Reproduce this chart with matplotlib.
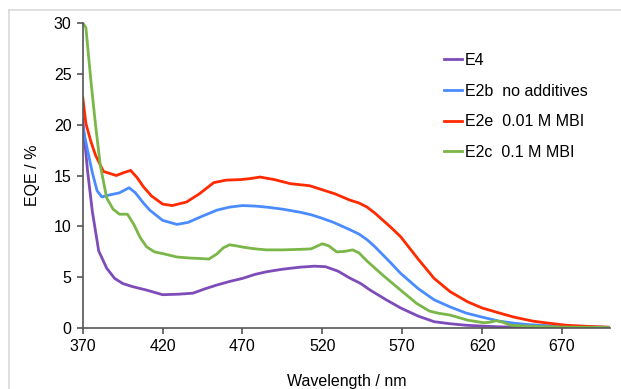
import matplotlib
matplotlib.use("Agg")
import matplotlib.pyplot as plt
from matplotlib.lines import Line2D

plt.rcParams['font.family'] = ['Liberation Sans', 'DejaVu Sans']

# E4
wl_e4 = [370, 373, 376, 380, 385, 390, 395, 401, 410, 420, 430, 439, 447, 454, 462, 470,
         478, 485, 495, 506, 515, 522, 530, 537, 544, 550, 560, 569, 580, 590, 600, 610,
         620, 630, 650, 670, 700]
eqe_e4 = [20.5, 15.5, 11.5, 7.6, 5.9, 4.9, 4.4, 4.1, 3.75, 3.3, 3.35, 3.45, 3.9, 4.25, 4.6, 4.9,
          5.3, 5.55, 5.8, 6.0, 6.1, 6.05, 5.6, 4.95, 4.4, 3.75, 2.8, 2.0, 1.2, 0.65, 0.45, 0.3,
          0.22, 0.15, 0.08, 0.05, 0.04]

# E2b no additives
wl_e2b = [370, 373, 376, 379, 382, 387, 393, 399, 403, 408, 412, 420, 429, 436, 444, 454,
          462, 470, 478, 485, 495, 506, 513, 519, 527, 537, 543, 548, 553, 558, 563, 569, 580,
          590, 600, 610, 620, 631, 640, 650, 670, 700]
eqe_e2b = [19.8, 17.5, 15.3, 13.5, 12.9, 13.1, 13.3, 13.8, 13.3, 12.3, 11.6, 10.6, 10.2, 10.4,
           10.95, 11.6, 11.9, 12.05, 12.0, 11.9, 11.7, 11.4, 11.15, 10.85, 10.4, 9.7, 9.25, 8.7,
           8.0, 7.2, 6.4, 5.4, 3.9, 2.8, 2.1, 1.5, 1.1, 0.7, 0.5, 0.35, 0.2, 0.1]

# E2e 0.01 M MBI
wl_e2e = [370, 372, 375, 378, 383, 391, 396, 400, 404, 408, 413, 420, 426, 435, 443, 452,
          460, 469, 475, 481, 490, 500, 512, 519, 528, 537, 543, 548, 553, 558, 563, 569, 574,
          580, 590, 600, 611, 620, 632, 640, 652, 662, 673, 685, 700]
eqe_e2e = [22.7, 20.1, 18.4, 17.0, 15.4, 15.0, 15.3, 15.5, 14.8, 13.9, 13.0, 12.2, 12.05, 12.4,
           13.2, 14.3, 14.55, 14.6, 14.7, 14.85, 14.6, 14.2, 14.0, 13.65, 13.2, 12.6, 12.3, 11.9,
           11.3, 10.6, 9.9, 9.0, 8.0, 6.8, 4.9, 3.6, 2.6, 2.0, 1.45, 1.1, 0.7, 0.5, 0.3, 0.2, 0.1]

# E2c 0.1 M MBI
wl_e2c = [370, 372, 375, 378, 381, 385, 389, 393, 398, 402, 406, 410, 415, 421, 429, 437,
          444, 449, 454, 458, 462, 466, 471, 478, 485, 495, 506, 513, 520, 524, 529, 534,
          539, 543, 548, 558, 569, 579, 587, 592, 600, 611, 621, 625, 629, 633, 638, 650,
          670, 700]
eqe_e2c = [30.0, 29.5, 24.5, 20.0, 16.0, 12.8, 11.7, 11.2, 11.2, 10.2, 8.9, 8.0, 7.5, 7.3, 7.0,
           6.9, 6.85, 6.8, 7.3, 7.9, 8.2, 8.1, 7.95, 7.8, 7.7, 7.7, 7.75, 7.8, 8.3, 8.1, 7.5, 7.55,
           7.7, 7.4, 6.6, 5.2, 3.75, 2.45, 1.7, 1.5, 1.3, 0.8, 0.55, 0.6, 0.75, 0.6, 0.3, 0.2,
           0.12, 0.08]

labels = ['E4', 'E2b  no additives', 'E2e  0.01 M MBI', 'E2c  0.1 M MBI']
colors = ['#7E4CB8', '#4A8CFF', '#FF2A00', '#7AB648']
xticks = [370, 420, 470, 520, 570, 620, 670]
yticks = [0, 5, 10, 15, 20, 25, 30]

fig = plt.figure(figsize=(6.21, 3.89), dpi=100)
ax = fig.add_axes([0.1332, 0.156, 0.982 - 0.1332, 0.9416 - 0.156])

# faint page border (top and left)
fig.add_artist(Line2D([9 / 621, 9 / 621], [0, 1 - 10 / 389], color='#d9d9d9', lw=1.2))
fig.add_artist(Line2D([9 / 621, 1], [1 - 10 / 389, 1 - 10 / 389], color='#d9d9d9', lw=1.2))

series = [(wl_e4, eqe_e4), (wl_e2b, eqe_e2b), (wl_e2e, eqe_e2e), (wl_e2c, eqe_e2c)]
for (x, y), lab, c in zip(series, labels, colors):
    ax.plot(x, y, color=c, lw=2, label=lab, solid_joinstyle='round')

ax.set_xlim(370, 700)
ax.set_ylim(0, 30)
ax.set_xticks(xticks)
ax.set_yticks(yticks)
ax.tick_params(labelsize=11.5, length=4, width=1.2, color='#555555', direction='out', pad=4)
for s in ['top', 'right']:
    ax.spines[s].set_visible(False)
for s in ['left', 'bottom']:
    ax.spines[s].set_color('#555555')
    ax.spines[s].set_linewidth(1.2)

ax.set_xlabel('Wavelength / nm', fontsize=11.5, labelpad=14)
ax.set_ylabel('EQE / %', fontsize=11.5, labelpad=10)

ax.legend(loc='upper left', bbox_to_anchor=(444 / 621, 1 - 53 / 389), bbox_transform=fig.transFigure,
          frameon=False, fontsize=11.5, handlelength=1.15, handletextpad=0.15,
          labelspacing=0.98, borderpad=0, borderaxespad=0)

fig.savefig('out.png', dpi=100)
